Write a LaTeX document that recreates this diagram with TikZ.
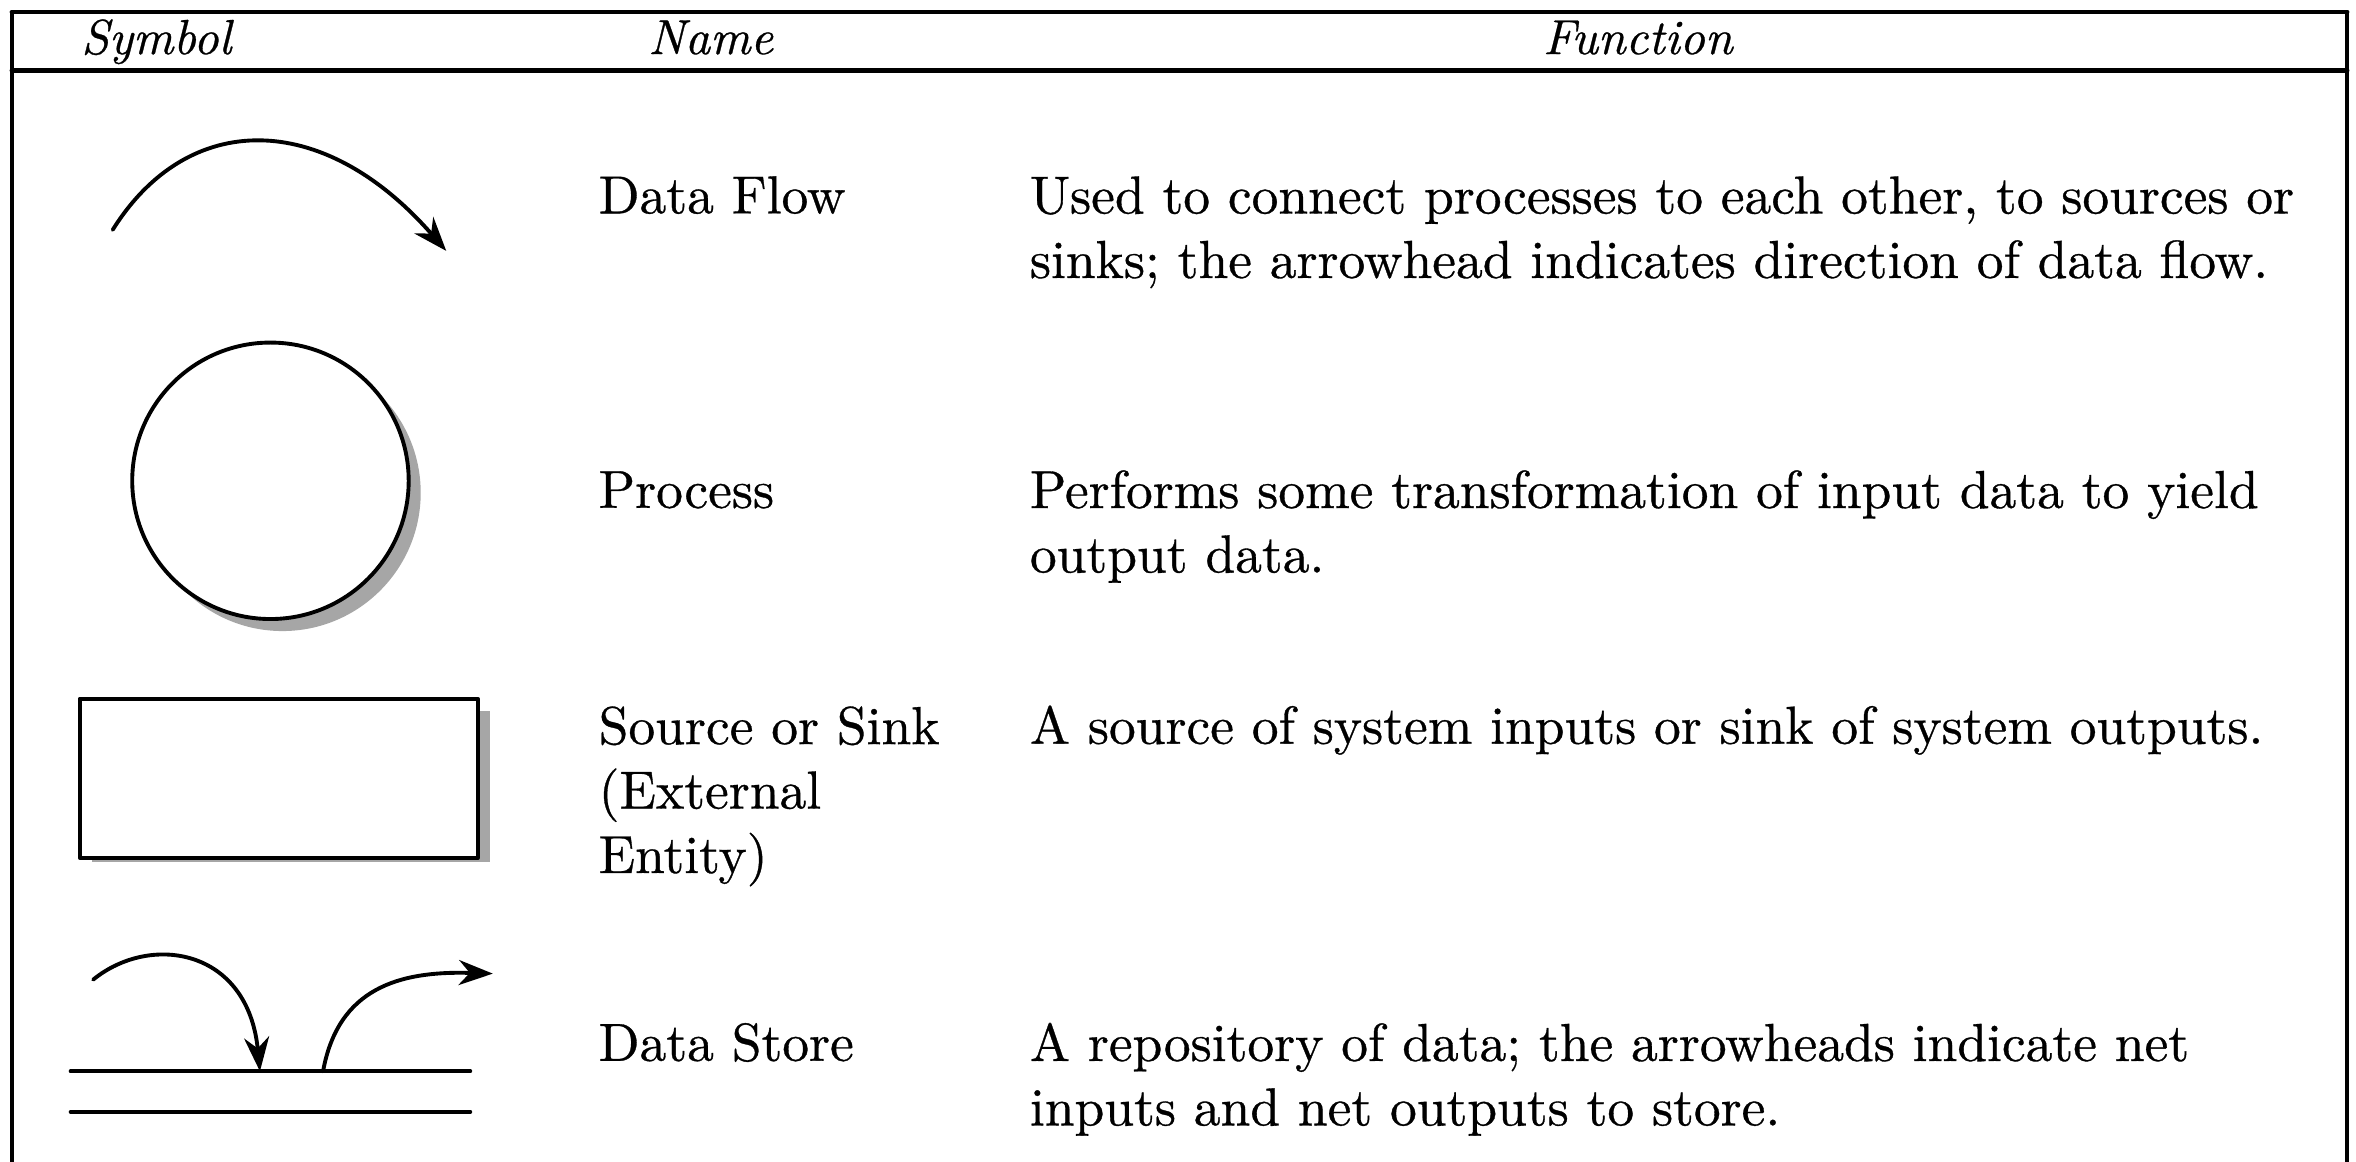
\documentclass[tikz,border=0pt]{standalone}
\usepackage{fontspec}
\usetikzlibrary{arrows.meta}
\newfontfamily\tabfam{lmroman10-regular.otf}[ItalicFont=lmroman10-italic.otf, FakeBold=0.6]
\newcommand{\tabfont}{\tabfam\fontsize{15.2}{18.3}\selectfont}
\tikzset{
	txt/.style={anchor=base west, align=left, inner sep=0pt, font=\tabfont},
	head/.style={anchor=base, inner sep=0pt, font=\tabfam\fontsize{14}{17}\selectfont\itshape},
	flow/.style={line width=1.1pt, -{Stealth[length=3.4mm, width=2.5mm]}},
	shade/.style={fill=black!35, draw=none},
}
\begin{document}
\begin{tikzpicture}[x=0.15mm, y=0.15mm, line cap=round, line join=round]
		\useasboundingbox (0,0) rectangle (1568,773);
		% frame and header
		\draw[line width=1.4pt] (8,765)--(1562,765);
		\draw[line width=1.4pt] (8,726)--(1562,726);
		\draw[line width=0.9pt] (8,0)--(8,765);
		\draw[line width=0.9pt] (1562,0)--(1562,765);
		\node[head] (hsym) at (104,737) {Symbol};
		\node[head] (hname) at (473,737) {Name};
		\node[head] (hfun) at (1090,737) {Function};
		% data flow (base anchor sits on the last line)
		\coordinate (f1) at (75,620);
		\coordinate (f2) at (297,606);
		\draw[flow] (f1) .. controls (125,700) and (215,700) .. (f2);
		\node[txt] (nflow) at (398,631) {Data Flow};
		\node[txt] (fflow) at (685,588) {Used to connect processes to each other, to sources or\\sinks; the arrowhead indicates direction of data flow.};
		% process
		\fill[shade] (188,445) circle (92);
		\draw[line width=1.1pt, fill=white] (180,453) circle (92);
		\node[txt] (nproc) at (398,435) {Process};
		\node[txt] (fproc) at (685,392) {Performs some transformation of input data to yield\\output data.};
		% source or sink
		\fill[shade] (61,199) rectangle (326,300);
		\draw[line width=1.1pt, fill=white] (53,202) rectangle (318,308);
		\node[txt] (nsrc) at (398,192) {Source or Sink\\(External\\Entity)};
		\node[txt] (fsrc) at (685,278) {A source of system inputs or sink of system outputs.};
		% data store
		\draw[line width=1.1pt] (47,60)--(313,60);
		\draw[line width=1.1pt] (47,33)--(313,33);
		\coordinate (s1) at (62,121);
		\coordinate (s2) at (173,60);
		\coordinate (s3) at (215,60);
		\coordinate (s4) at (328,125);
		\draw[flow] (s1) .. controls (100,152) and (165,142) .. (s2);
		\draw[flow] (s3) .. controls (225,115) and (265,127) .. (s4);
		\node[txt] (nstore) at (398,67) {Data Store};
		\node[txt] (fstore) at (685,24) {A repository of data; the arrowheads indicate net\\inputs and net outputs to store.};
\end{tikzpicture}
\end{document}
